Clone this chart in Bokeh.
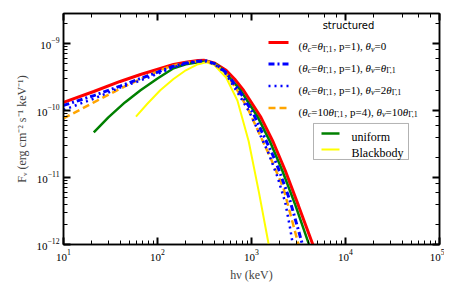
from bokeh.plotting import figure
from bokeh.models import Label, BoxAnnotation, LogAxis, LogTicker
from bokeh.embed import file_html
from bokeh.resources import INLINE

# ---------------- data ----------------
e_red = [10, 21, 40, 66, 148, 200, 270, 316, 400, 537, 660, 822, 1260, 1700, 2290, 3160, 4470, 4800]
f_red = [1.32e-10, 1.92e-10, 2.71e-10, 3.44e-10, 4.86e-10, 5.25e-10, 5.57e-10, 5.6e-10, 5.13e-10,
         3.98e-10, 2.95e-10, 2.0e-10, 7.9e-11, 3.39e-11, 1.26e-11, 3.8e-12, 1.02e-12, 7.5e-13]

e_bdash = [10, 21, 40, 66, 148, 200, 270, 330, 420, 537, 760, 1050, 1700, 1950, 2570, 3470, 3700]
f_bdash = [1.19e-10, 1.67e-10, 2.31e-10, 3.0e-10, 4.57e-10, 5.1e-10, 5.45e-10, 5.5e-10, 4.9e-10,
           3.7e-10, 1.86e-10, 8.9e-11, 2.1e-11, 1.32e-11, 4.5e-12, 1.02e-12, 7.5e-13]

e_bdot = [10, 21, 40, 66, 148, 200, 270, 330, 410, 520, 720, 950, 1500, 1900, 2290, 2570, 2750, 2850]
f_bdot = [1.02e-10, 1.5e-10, 2.2e-10, 2.8e-10, 4.4e-10, 5.0e-10, 5.4e-10, 5.45e-10, 4.85e-10,
          3.7e-10, 1.8e-10, 9.5e-11, 2.4e-11, 1.0e-11, 4.2e-12, 1.78e-12, 1.0e-12, 7.5e-13]

e_orange = [10, 21, 37, 51, 107, 148, 200, 270, 330, 410, 525, 740, 933, 1585, 2190, 3160, 3350]
f_orange = [7.6e-11, 1.32e-10, 2.0e-10, 2.5e-10, 4.0e-10, 4.7e-10, 5.15e-10, 5.45e-10, 5.5e-10,
            4.9e-10, 3.7e-10, 1.8e-10, 1.0e-10, 2.0e-11, 6.9e-12, 1.0e-12, 7.5e-13]

e_uniform = [21, 30, 45, 66, 100, 148, 200, 270, 340, 420, 500, 765, 1170, 1580, 2130, 2940, 4070, 4350]
f_uniform = [4.7e-11, 7.9e-11, 1.32e-10, 2.0e-10, 3.0e-10, 4.27e-10, 4.9e-10, 5.25e-10, 5.37e-10,
             4.9e-10, 3.98e-10, 2.0e-10, 7.9e-11, 3.39e-11, 1.26e-11, 3.8e-12, 1.02e-12, 7.5e-13]

e_bb = [59, 78, 107, 148, 200, 270, 330, 400, 537, 708, 933, 1200, 1510, 1560]
f_bb = [8.1e-11, 1.26e-10, 2.0e-10, 2.95e-10, 3.98e-10, 4.9e-10, 5.25e-10, 4.8e-10, 3.1e-10,
        1.41e-10, 3.47e-11, 6.0e-12, 1.07e-12, 8.0e-13]

x_range = (10, 1e5)
y_range = (1e-12, 2.8e-9)

SERIF = "Liberation Serif"

p = figure(width=444, height=284, x_axis_type="log", y_axis_type="log",
           x_range=x_range, y_range=y_range, output_backend="svg", toolbar_location=None,
           min_border_left=63, min_border_right=5, min_border_top=13, min_border_bottom=40)
p.xgrid.visible = False
p.ygrid.visible = False
p.outline_line_color = "black"
p.outline_line_width = 1.5
p.background_fill_color = "white"
p.border_fill_color = "white"

def style_axis(ax, labels=True):
    ax.axis_line_width = 1.5
    ax.axis_line_color = "black"
    ax.major_tick_in = 7
    ax.major_tick_out = 0
    ax.minor_tick_in = 4
    ax.minor_tick_out = 0
    ax.major_tick_line_width = 2
    ax.minor_tick_line_width = 1
    ax.major_label_text_font = SERIF
    ax.major_label_text_font_size = "11px"
    ax.major_label_text_color = "black"
    if not labels:
        ax.major_label_text_color = None
        ax.major_label_text_font_size = "1px"
        ax.major_label_standoff = 0

for ax in p.xaxis + p.yaxis:
    style_axis(ax)
p.xaxis.major_label_standoff = 5
p.yaxis.major_label_standoff = 4
p.xaxis.axis_label = "hν (keV)"
p.yaxis.axis_label = "Fᵥ (erg cm⁻² s⁻¹ keV⁻¹)"
for ax in p.xaxis + p.yaxis:
    ax.axis_label_text_font = SERIF
    ax.axis_label_text_font_size = "12px"
    ax.axis_label_text_font_style = "normal"
    ax.axis_label_standoff = 4

top = LogAxis(ticker=LogTicker())
right = LogAxis(ticker=LogTicker())
style_axis(top, labels=False)
style_axis(right, labels=False)
p.add_layout(top, "above")
p.add_layout(right, "right")

# ---------------- curves ----------------
p.line(e_red, f_red, line_color="#ff0000", line_width=3)
p.line(e_uniform, f_uniform, line_color="#008000", line_width=2.5)
p.line(e_bb, f_bb, line_color="#ffff00", line_width=2)
p.line(e_orange, f_orange, line_color="#ffa500", line_width=2.5, line_dash="7 4")
p.line(e_bdot, f_bdot, line_color="#0000ff", line_width=2.5, line_dash="2 4")
p.line(e_bdash, f_bdash, line_color="#0000ff", line_width=3, line_dash="6 3 2 3")

# ---------------- legend (layout helpers, window px -> data) ----------------
def dx(px):
    return 10 ** (1 + (px - 63) / 94.0)

def dy(py):
    return 10 ** (-12 + (244 - py) / 67.0)

W = {'(': 333, ')': 333, '=': 564, ',': 250, ' ': 250, 'p': 500, 'θ': 500, 'c': 444, 'v': 444,
     'Γ': 578}
MAIN, SUB = 11, 8

def width(s, size):
    return sum(W.get(ch, 500) for ch in s) * size / 1000.0

def rich(x, y, segs):
    off = 0.0
    for txt, kind in segs:
        sub = kind in ("s", "si")
        size = SUB if sub else MAIN
        style = "italic" if kind in ("i", "si") else "normal"
        p.add_layout(Label(x=x, y=y, x_offset=off, y_offset=(-7 if sub else -4), text=txt,
                           text_font=SERIF, text_font_size=f"{size}px", text_font_style=style,
                           text_baseline="alphabetic", text_align="left", text_color="black"))
        off += width(txt, size)

rows_py = [42, 63.5, 85.5, 107.5]
line_specs = [
    dict(line_color="#ff0000", line_width=3),
    dict(line_color="#0000ff", line_width=3, line_dash="6 3 2 3"),
    dict(line_color="#0000ff", line_width=2.5, line_dash="2 4"),
    dict(line_color="#ffa500", line_width=2.5, line_dash="7 4"),
]
row_texts = [
    [("(", "n"), ("θ", "i"), ("c", "si"), ("=", "n"), ("θ", "i"), ("Γ,1", "s"), (", p=1), ", "n"),
     ("θ", "i"), ("v", "si"), ("=0", "n")],
    [("(", "n"), ("θ", "i"), ("c", "si"), ("=", "n"), ("θ", "i"), ("Γ,1", "s"), (", p=1), ", "n"),
     ("θ", "i"), ("v", "si"), ("=", "n"), ("θ", "i"), ("Γ,1", "s")],
    [("(", "n"), ("θ", "i"), ("c", "si"), ("=", "n"), ("θ", "i"), ("Γ,1", "s"), (", p=1), ", "n"),
     ("θ", "i"), ("v", "si"), ("=2", "n"), ("θ", "i"), ("Γ,1", "s")],
    [("(", "n"), ("θ", "i"), ("c", "si"), ("=10", "n"), ("θ", "i"), ("Γ,1", "s"), (", p=4), ", "n"),
     ("θ", "i"), ("v", "si"), ("=10", "n"), ("θ", "i"), ("Γ,1", "s")],
]
p.add_layout(Label(x=dx(348), y=dy(25), text="structured", text_font="DejaVu Sans",
                   text_font_size="10px", text_align="center", text_baseline="middle",
                   text_color="black"))
for py, spec, segs in zip(rows_py, line_specs, row_texts):
    p.line([dx(268), dx(288)], [dy(py), dy(py)], **spec)
    rich(dx(298), dy(py), segs)

p.add_layout(BoxAnnotation(left=dx(313), right=dx(408), top=dy(123), bottom=dy(159),
                           fill_alpha=0, line_color="black", line_width=1))
for py, col, lw, txt in [(133, "#008000", 2.5, "uniform"), (149, "#ffff00", 2, "Blackbody")]:
    p.line([dx(321), dx(339)], [dy(py), dy(py)], line_color=col, line_width=lw)
    p.add_layout(Label(x=dx(351), y=dy(py), y_offset=-4, text=txt, text_font=SERIF,
                       text_font_size="12px", text_baseline="alphabetic", text_color="black"))

open("out.html", "w").write(file_html(p, INLINE))
